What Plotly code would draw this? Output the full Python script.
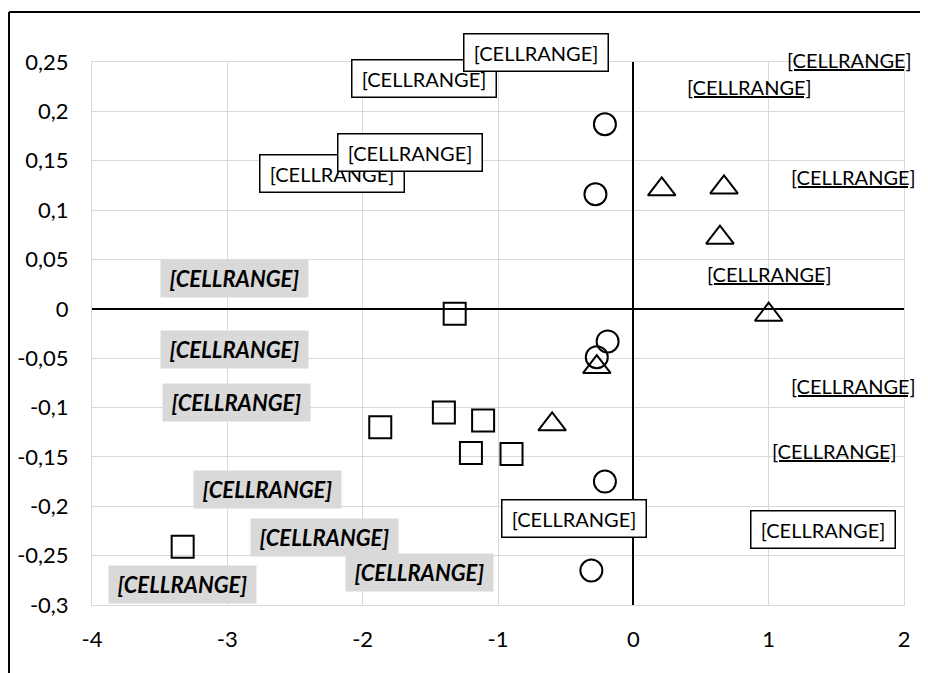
"""
Scatter of three groups with custom-placed data labels (Excel-like look)
"""

import plotly.graph_objects as go

# --- data ---
square_x = [-1.32, -1.87, -1.40, -1.11, -1.20, -0.90, -3.33]
square_y = [-0.005, -0.120, -0.105, -0.113, -0.146, -0.147, -0.241]

circle_x = [-0.21, -0.28, -0.19, -0.27, -0.21, -0.31]
circle_y = [0.187, 0.116, -0.033, -0.049, -0.175, -0.265]

triangle_x = [0.21, 0.67, 0.64, 1.00, -0.27, -0.60]
triangle_y = [0.121, 0.123, 0.072, -0.006, -0.059, -0.117]

label_text = "[CELLRANGE]"

x_ticks = [-4, -3, -2, -1, 0, 1, 2]
x_ticktext = ["-4", "-3", "-2", "-1", "0", "1", "2"]
y_ticks = [-0.3, -0.25, -0.2, -0.15, -0.1, -0.05, 0, 0.05, 0.1, 0.15, 0.2, 0.25]
y_ticktext = ["-0,3", "-0,25", "-0,2", "-0,15", "-0,1", "-0,05", "0",
              "0,05", "0,1", "0,15", "0,2", "0,25"]

Y_MIN, Y_MAX = -0.3, 0.25

# label placements (data coordinates), one per point of each group
square_label_pos = [(-2.95, 0.031), (-2.95, -0.041), (-2.93, -0.095), (-2.70, -0.183),
                    (-2.28, -0.232), (-1.58, -0.267), (-3.33, -0.279)]
circle_label_pos = [(-2.23, 0.137), (-1.65, 0.158), (-1.55, 0.233), (-0.72, 0.260),
                    (-0.44, -0.2125), (1.40, -0.224)]
triangle_label_pos = [(1.60, 0.252), (0.86, 0.2245), (1.63, 0.134), (1.005, 0.035),
                      (1.63, -0.0785), (1.49, -0.1445)]

FONT = "Lato, Calibri, sans-serif"


def paper_y(y):
    # plotly hides annotations anchored outside the axis range,
    # so the vertical position goes through paper coordinates
    return (y - Y_MIN) / (Y_MAX - Y_MIN)


fig = go.Figure()

marker_line = dict(color="black", width=2)

fig.add_trace(go.Scatter(
    x=square_x, y=square_y, mode="markers", name="squares",
    marker=dict(symbol="square-open", size=22, color="black", line=marker_line)
))
fig.add_trace(go.Scatter(
    x=circle_x, y=circle_y, mode="markers", name="circles",
    marker=dict(symbol="circle-open", size=22, color="black", line=marker_line)
))
fig.add_trace(go.Scatter(
    x=triangle_x, y=triangle_y, mode="markers", name="triangles",
    marker=dict(symbol="triangle-up-open", size=24, color="black", line=marker_line)
))

annotations = []
anchor = dict(xref="x", yref="paper", xanchor="center", yanchor="middle", showarrow=False)

# grey filled, bold italic labels
for lx, ly in square_label_pos:
    annotations.append(dict(
        anchor, x=lx, y=paper_y(ly),
        text="<b><i>" + label_text + "</i></b>",
        font=dict(family=FONT, size=22, color="black"),
        bgcolor="#d9d9d9", width=145, height=35, borderpad=1
    ))

# white boxed labels
for lx, ly in circle_label_pos:
    annotations.append(dict(
        anchor, x=lx, y=paper_y(ly),
        text=label_text,
        font=dict(family=FONT, size=20, color="black"),
        bgcolor="white", bordercolor="black", borderwidth=1.5,
        width=141, height=34, borderpad=1
    ))

# underlined labels
for lx, ly in triangle_label_pos:
    annotations.append(dict(
        anchor, x=lx, y=paper_y(ly),
        text="<u>" + label_text + "</u>",
        font=dict(family=FONT, size=20, color="black")
    ))

# the page body adds an 8px offset, so the figure is 8px smaller on each side
fig.update_layout(
    width=920,
    height=665,
    paper_bgcolor="white",
    plot_bgcolor="white",
    showlegend=False,
    margin=dict(l=84, r=24, t=54, b=68),
    font=dict(family=FONT, size=22, color="black"),
    annotations=annotations,
    shapes=[
        # partial outer frame of the chart area
        dict(type="line", xref="paper", yref="paper",
             x0=-0.1022, x1=-0.1022, y0=-0.14, y1=1.0921,
             line=dict(color="black", width=2)),
        dict(type="line", xref="paper", yref="paper",
             x0=-0.1022, x1=1.03, y0=1.0921, y1=1.0921,
             line=dict(color="black", width=2)),
    ],
)

fig.update_xaxes(
    range=[-4, 2], tickvals=x_ticks, ticktext=x_ticktext, automargin=False,
    showgrid=True, gridcolor="#d9d9d9", gridwidth=1,
    showline=True, mirror=True, linecolor="#d9d9d9", linewidth=1,
    zeroline=True, zerolinecolor="black", zerolinewidth=2,
    ticks="", ticklabelstandoff=15
)
fig.update_yaxes(
    range=[Y_MIN, Y_MAX], tickvals=y_ticks, ticktext=y_ticktext, automargin=False,
    showgrid=True, gridcolor="#d9d9d9", gridwidth=1,
    showline=True, mirror=True, linecolor="#d9d9d9", linewidth=1,
    zeroline=True, zerolinecolor="black", zerolinewidth=2,
    ticks="", ticklabelstandoff=18
)

fig.write_html("out.html")
